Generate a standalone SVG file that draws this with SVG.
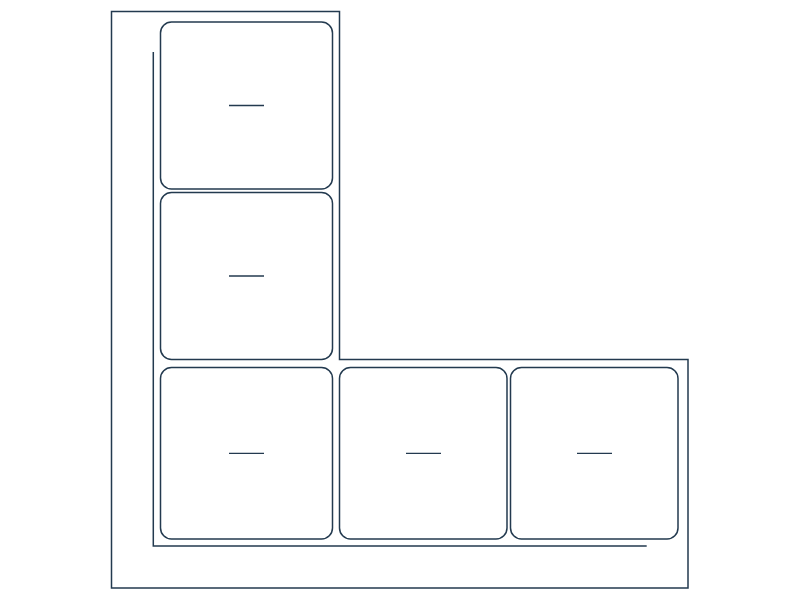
<svg xmlns="http://www.w3.org/2000/svg" width="800" height="600" viewBox="0 0 800 600">
<style>
.frame{fill:none;stroke:#233a4f;stroke-width:1.5}
.node rect{fill:#fff;stroke:#233a4f;stroke-width:1.5}
.node line{stroke:#233a4f;stroke-width:1.3}
</style>
<rect width="800" height="600" fill="#fff"/>
<polygon class="frame" points="111.5,11.5 339.5,11.5 339.5,359.5 688,359.5 688,588 111.5,588"/>
<g id="connectors">
<polyline class="frame" points="153.3,52 153.3,546 646.7,546"/>
</g>
<g id="node1" class="node"><rect x="160.5" y="22" width="172" height="167" rx="11"/><line x1="229" y1="105.5" x2="264" y2="105.5"/></g>
<g id="node2" class="node"><rect x="160.5" y="192.5" width="172" height="167" rx="11"/><line x1="229" y1="276" x2="264" y2="276"/></g>
<g id="node3" class="node"><rect x="160.5" y="367.5" width="172" height="171.5" rx="11"/><line x1="229" y1="453.3" x2="264" y2="453.3"/></g>
<g id="node4" class="node"><rect x="339.5" y="367.5" width="167.5" height="171.5" rx="11"/><line x1="406" y1="453.3" x2="441" y2="453.3"/></g>
<g id="node5" class="node"><rect x="510.5" y="367.5" width="167.5" height="171.5" rx="11"/><line x1="577" y1="453.3" x2="612" y2="453.3"/></g>
</svg>
